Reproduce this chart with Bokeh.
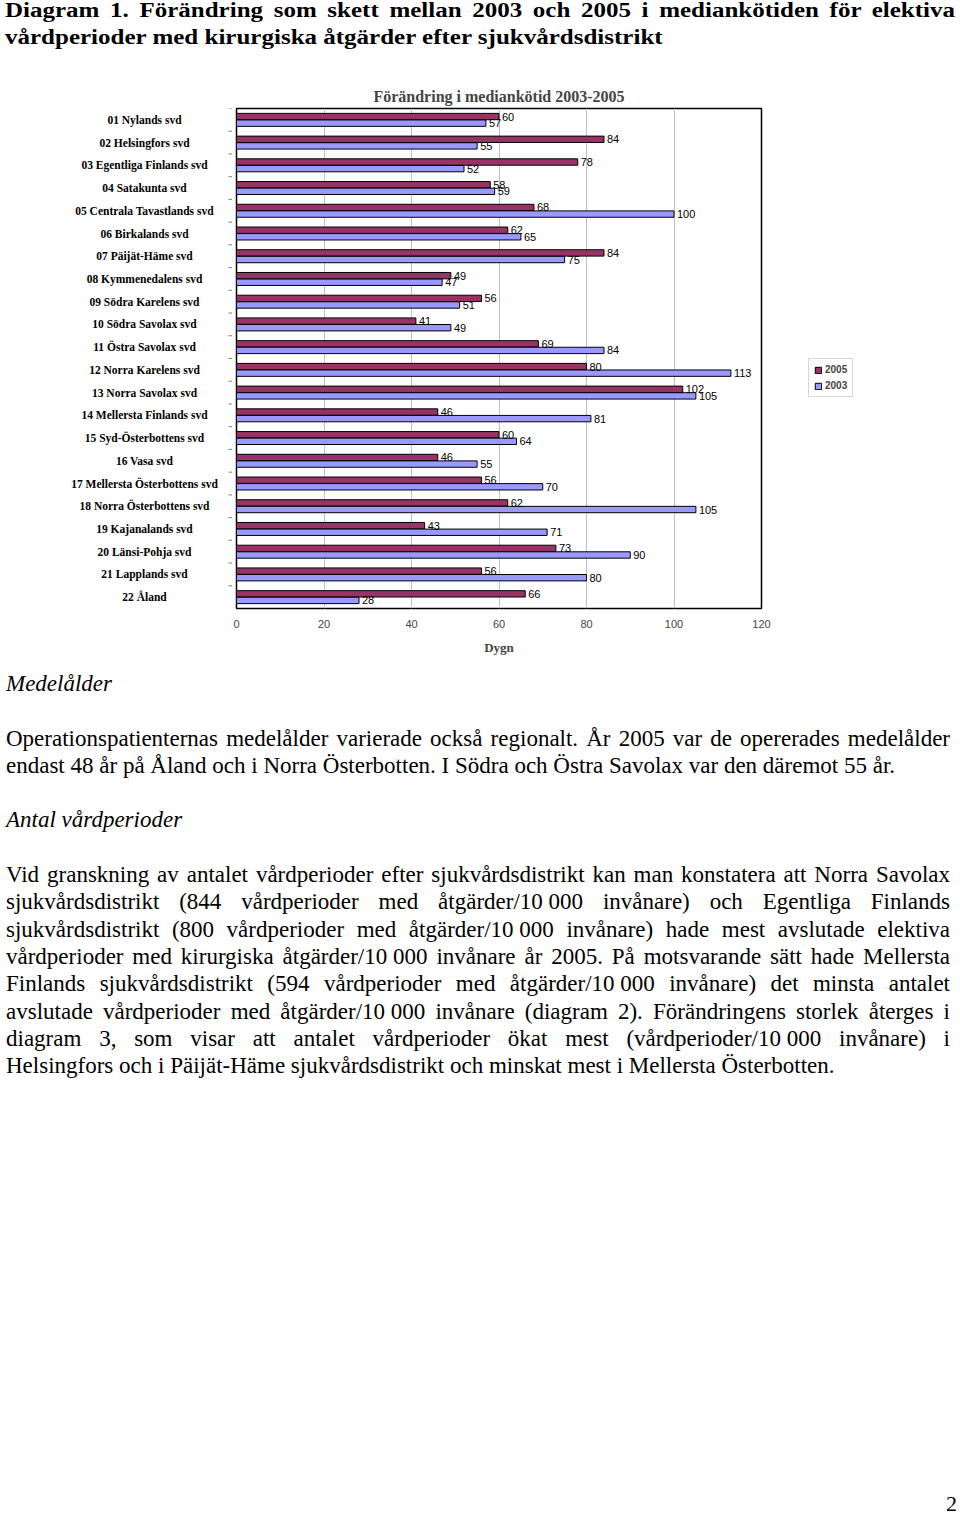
from bokeh.plotting import figure
from bokeh.models import (ColumnDataSource, FactorRange, Range1d, FixedTicker, LabelSet,
                          Legend, LegendItem, Div)
from bokeh.layouts import column, row
from bokeh.transform import dodge
from bokeh.core.properties import value
from bokeh.embed import file_html
from bokeh.resources import INLINE

categories = [
    "01 Nylands svd", "02 Helsingfors svd", "03 Egentliga Finlands svd", "04 Satakunta svd",
    "05 Centrala Tavastlands svd", "06 Birkalands svd", "07 Päijät-Häme svd",
    "08 Kymmenedalens svd", "09 Södra Karelens svd", "10 Södra Savolax svd",
    "11 Östra Savolax svd", "12 Norra Karelens svd", "13 Norra Savolax svd",
    "14 Mellersta Finlands svd", "15 Syd-Österbottens svd", "16 Vasa svd",
    "17 Mellersta Österbottens svd", "18 Norra Österbottens svd", "19 Kajanalands svd",
    "20 Länsi-Pohja svd", "21 Lapplands svd", "22 Åland",
]
values_2005 = [60, 84, 78, 58, 68, 62, 84, 49, 56, 41, 69, 80, 102, 46, 60, 46, 56, 62, 43, 73, 56, 66]
values_2003 = [57, 55, 52, 59, 100, 65, 75, 47, 51, 49, 84, 113, 105, 81, 64, 55, 70, 105, 71, 90, 80, 28]
x_ticks = [0, 20, 40, 60, 80, 100, 120]
series_labels = ["2005", "2003"]
series_colors = ["#993366", "#9999FF"]

src = ColumnDataSource(dict(
    cat=categories, v05=values_2005, v03=values_2003,
    t05=[str(v) for v in values_2005], t03=[str(v) for v in values_2003],
))

FIG_H = 620
TOP = 58
BOTTOM = 62
factors = list(reversed(categories))

# ---- category label strip (left) ----
pl = figure(width=232, height=FIG_H, output_backend="svg", toolbar_location=None,
            y_range=FactorRange(factors=factors), x_range=Range1d(0, 232),
            min_border_left=0, min_border_right=0, min_border_top=TOP, min_border_bottom=BOTTOM)
pl.axis.visible = False
pl.grid.grid_line_color = None
pl.outline_line_color = None
pl.text(x=144, y="cat", text="cat", source=src, text_align="center", text_baseline="middle",
        text_font=value("Liberation Serif"), text_font_style="bold", text_font_size="11.5px",
        text_color="black")
pl.segment(x0=228, x1=232, y0=dodge("cat", 0.5, range=pl.y_range),
           y1=dodge("cat", 0.5, range=pl.y_range), source=src, line_color="#808080", line_width=1)

# ---- chart ----
p = figure(width=544, height=FIG_H, output_backend="svg", toolbar_location=None,
           y_range=FactorRange(factors=factors), x_range=Range1d(0, 120),
           min_border_left=4, min_border_right=15, min_border_top=TOP, min_border_bottom=BOTTOM)

p.title.text = "Förändring i mediankötid 2003-2005"
p.title.align = "center"
p.title.text_font = "Liberation Serif"
p.title.text_font_size = "16px"
p.title.text_font_style = "bold"
p.title.standoff = 7

r05 = p.hbar(y=dodge("cat", 0.145, range=p.y_range), right="v05", left=0, height=0.28,
             source=src, fill_color=series_colors[0], line_color="black", line_width=1)
r03 = p.hbar(y=dodge("cat", -0.145, range=p.y_range), right="v03", left=0, height=0.28,
             source=src, fill_color=series_colors[1], line_color="black", line_width=1)

lab_font = value("Liberation Sans")
p.add_layout(LabelSet(x="v05", y=dodge("cat", 0.145, range=p.y_range), text="t05", source=src,
                      x_offset=3, text_baseline="middle", text_font=lab_font,
                      text_font_size="11px", text_color="black"))
p.add_layout(LabelSet(x="v03", y=dodge("cat", -0.145, range=p.y_range), text="t03", source=src,
                      x_offset=3, text_baseline="middle", text_font=lab_font,
                      text_font_size="11px", text_color="black"))

p.outline_line_color = "black"
p.outline_line_width = 1.5
p.ygrid.grid_line_color = None
p.xgrid.grid_line_color = "#c0c0c0"
p.xgrid.grid_line_width = 1

p.xaxis.ticker = FixedTicker(ticks=x_ticks)
p.xaxis.axis_line_color = None
p.xaxis.major_tick_line_color = None
p.xaxis.minor_tick_line_color = None
p.xaxis.major_label_text_font = "Liberation Sans"
p.xaxis.major_label_text_font_size = "11px"
p.xaxis.major_label_standoff = 5
p.xaxis.axis_label = "Dygn"
p.xaxis.axis_label_text_font = "Liberation Serif"
p.xaxis.axis_label_text_font_size = "13px"
p.xaxis.axis_label_text_font_style = "bold"
p.xaxis.axis_label_standoff = 9
p.yaxis.visible = False

# ---- legend strip (right) ----
pg = figure(width=184, height=FIG_H, output_backend="svg", toolbar_location=None,
            min_border_left=0, min_border_right=0, min_border_top=TOP, min_border_bottom=BOTTOM,
            x_range=Range1d(0, 1), y_range=Range1d(0, 1))
pg.axis.visible = False
pg.grid.grid_line_color = None
pg.outline_line_color = None
lg_items = []
for lbl, col, fld in zip(series_labels, series_colors, ["v05", "v03"]):
    rr = pg.hbar(y=fld, right=fld, left=0, height=0.1, source=src,
                 fill_color=col, line_color="black", line_width=1)
    rr.visible = False
    lg_items.append(LegendItem(label=lbl, renderers=[rr]))
legend = Legend(items=lg_items, location=(32, 211), orientation="vertical",
                label_text_font="Liberation Sans", label_text_font_size="10px",
                label_text_font_style="bold", glyph_width=8, glyph_height=8,
                label_height=10, label_standoff=3, spacing=5, padding=5, margin=0,
                border_line_color="#b0b0b0", background_fill_color="white",
                inactive_fill_alpha=0)
pg.add_layout(legend, "center")

# ---- texts ----
title_div = Div(width=960, height=50, margin=0, text=(
    "<div style='font-family:\"Liberation Serif\",serif;font-weight:bold;font-size:25px;"
    "line-height:29.5px;text-align:justify;padding:0 5px;color:black;"
    "transform-origin:0 0;transform:translateY(-3px) scaleY(0.88);'>"
    "Diagram 1. Förändring som skett mellan 2003 och 2005 i mediankötiden för elektiva "
    "vårdperioder med kirurgiska åtgärder efter sjukvårdsdistrikt</div>"))

N = "<span style='display:inline-block'>10&nbsp;000</span>"
base = ("font-family:\"Liberation Serif\",serif;font-size:23px;line-height:27.3px;"
        "margin:0;color:black;white-space:nowrap;")
J = base + "text-align:justify;text-align-last:justify;"
L = base + "text-align:left;"


def lines(ls):
    out = ""
    for i, t in enumerate(ls):
        st = L if i == len(ls) - 1 else J
        out += f"<div style='{st}'>{t}</div>"
    return out


p1 = [
    "Operationspatienternas medelålder varierade också regionalt. År 2005 var de opererades medelålder",
    "endast 48 år på Åland och i Norra Österbotten. I Södra och Östra Savolax var den däremot 55 år.",
]
p2 = [
    "Vid granskning av antalet vårdperioder efter sjukvårdsdistrikt kan man konstatera att Norra Savolax",
    f"sjukvårdsdistrikt (844 vårdperioder med åtgärder/{N} invånare) och Egentliga Finlands",
    f"sjukvårdsdistrikt (800 vårdperioder med åtgärder/{N} invånare) hade mest avslutade elektiva",
    f"vårdperioder med kirurgiska åtgärder/{N} invånare år 2005. På motsvarande sätt hade Mellersta",
    f"Finlands sjukvårdsdistrikt (594 vårdperioder med åtgärder/{N} invånare) det minsta antalet",
    f"avslutade vårdperioder med åtgärder/{N} invånare (diagram 2). Förändringens storlek återges i",
    f"diagram 3, som visar att antalet vårdperioder ökat mest (vårdperioder/{N} invånare) i",
    "Helsingfors och i Päijät-Häme sjukvårdsdistrikt och minskat mest i Mellersta Österbotten.",
]
blank = f"<div style='{L}'>&nbsp;</div>"
text_div = Div(width=960, height=820, margin=0, text=(
    "<div style='padding:0 2px 0 6px;width:952px;'>"
    f"<div style='{L}font-style:italic;'>Medelålder</div>" + blank +
    lines(p1) + blank +
    f"<div style='{L}font-style:italic;'>Antal vårdperioder</div>" + blank +
    lines(p2) + "</div>"))

page_div = Div(width=960, height=24, margin=0, text=(
    "<div style='font-family:\"Liberation Serif\",serif;font-size:22px;line-height:28px;"
    "text-align:right;width:957px;color:black;'>2</div>"))

layout = column(title_div, row(pl, p, pg, spacing=0), text_div, page_div, spacing=0)

html = file_html(layout, INLINE)
html = html.replace("<body>", "<body style=\"margin:0;padding:0;\">", 1)
open("out.html", "w").write(html)
